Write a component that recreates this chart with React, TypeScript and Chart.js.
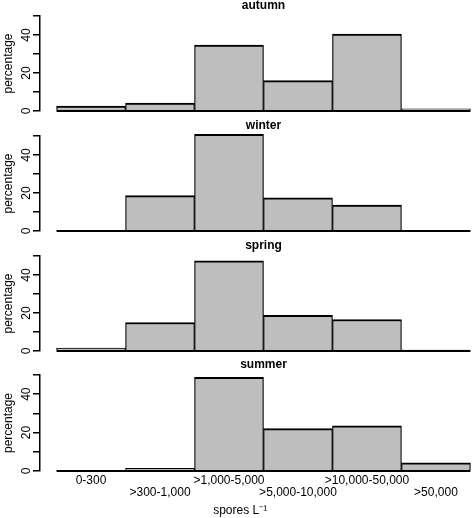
import React, { useEffect, useRef } from 'react';
import { Chart, registerables } from 'chart.js';

Chart.register(...registerables);

// ---- data ----
const categories = ['0-300', '>300-1,000', '>1,000-5,000', '>5,000-10,000', '>10,000-50,000', '>50,000'];
const seasons = ['autumn', 'winter', 'spring', 'summer'];
const autumn = [2.6, 4.2, 34.7, 16.0, 40.5, 1.2];
const winter = [0, 18.6, 50.9, 17.4, 13.7, 0];
const spring = [1.6, 15.0, 47.4, 18.8, 16.6, 0.5];
const summer = [0, 1.4, 48.8, 22.1, 23.5, 4.2];
const seasonValues = [autumn, winter, spring, summer];
const yTicks = [0, 10, 20, 30, 40, 50];
const yLabeledTicks = [0, 20, 40];
const yLabel = 'percentage';
const xLabel = 'spores L\u207B\u00B9';

const FONT = '"Liberation Sans", Arial, Helvetica, sans-serif';
const CANVAS_W = 487;
const PLOT_TOPS = [16, 136, 256, 375];

const baselinePlugin = {
  id: 'baseline',
  afterDatasetsDraw(chart: any) {
    const { ctx, scales } = chart;
    const x = scales.x;
    const y = scales.y;
    const y0 = y.getPixelForValue(0);
    ctx.save();
    ctx.strokeStyle = '#000';
    ctx.lineWidth = 1.8;
    ctx.beginPath();
    ctx.moveTo(x.getPixelForValue(0), y0);
    ctx.lineTo(x.getPixelForValue(categories.length), y0);
    ctx.stroke();
    ctx.restore();
  },
};

function Panel({ title, values, showX, top }: { title: string; values: number[]; showX: boolean; top: number }) {
  const ref = useRef<HTMLCanvasElement | null>(null);
  const height = showX ? 18 + 95 + 48 : 18 + 95 + 10;
  useEffect(() => {
    if (!ref.current) return;
    const chart = new Chart(ref.current, {
      type: 'bar',
      data: {
        datasets: [
          {
            data: values.map((v, i) => ({ x: i + 0.5, y: v })),
            backgroundColor: '#bebebe',
            borderColor: '#000',
            borderWidth: { top: 2, left: 1.2, right: 1.2, bottom: 0 },
            borderSkipped: false,
            barPercentage: 1,
            categoryPercentage: 1,
            clip: false,
          } as any,
        ],
      },
      options: {
        animation: false,
        responsive: false,
        devicePixelRatio: 1,
        events: [],
        layout: { padding: { left: 0, right: 0, top: 0, bottom: showX ? 0 : 10 } },
        plugins: {
          legend: { display: false },
          tooltip: { enabled: false },
          title: {
            display: true,
            text: title,
            fullSize: false,
            color: '#000',
            font: { family: FONT, size: 12, weight: 'bold', lineHeight: 1 },
            padding: { top: 2, bottom: 4 },
          },
        },
        scales: {
          x: {
            type: 'linear',
            min: -0.24,
            max: 6.24,
            bounds: 'data',
            offset: false,
            display: showX,
            afterBuildTicks: (s: any) => {
              s.ticks = categories.map((_, i) => ({ value: i + 0.5 }));
            },
            grid: { display: false, drawTicks: false, offset: false },
            border: { display: false },
            ticks: {
              autoSkip: false,
              maxRotation: 0,
              minRotation: 0,
              padding: 4,
              color: '#000',
              font: { family: FONT, size: 12, lineHeight: 1 },
              callback: (_v: any, i: number) => (i % 2 === 0 ? [categories[i]] : ['', categories[i]]),
            },
            title: {
              display: showX,
              text: xLabel + ' '.repeat(14),
              color: '#000',
              font: { family: FONT, size: 12, lineHeight: 1 },
              padding: { top: 2, bottom: 1 },
            },
          },
          y: {
            min: 0,
            max: 50,
            afterBuildTicks: (s: any) => {
              s.ticks = yTicks.map((v) => ({ value: v }));
            },
            afterFit: (s: any) => {
              s.width = 40;
            },
            grid: { drawOnChartArea: false, drawTicks: true, tickLength: 7, color: '#000', lineWidth: 1.5 },
            border: { display: true, color: '#000', width: 1.5 },
            ticks: {
              autoSkip: false,
              minRotation: 90,
              maxRotation: 90,
              crossAlign: 'center',
              padding: 0,
              color: '#000',
              font: { family: FONT, size: 12, lineHeight: 1 },
              callback: (v: any) => (yLabeledTicks.includes(Number(v)) ? String(v) : ''),
            },
            title: {
              display: true,
              text: yLabel,
              color: '#000',
              font: { family: FONT, size: 12, lineHeight: 1 },
              padding: { top: 3, bottom: 0 },
            },
          },
        },
      } as any,
      plugins: [baselinePlugin],
    });
    return () => chart.destroy();
  }, [title, values, showX]);
  return (
    <canvas
      ref={ref}
      width={CANVAS_W}
      height={height}
      style={{ position: 'absolute', left: 0, top: top - 18, width: CANVAS_W, height }}
    />
  );
}

export default function App() {
  return (
    <div
      style={{
        position: 'absolute',
        left: 0,
        top: 0,
        width: 472,
        height: 518,
        overflow: 'hidden',
        background: '#fff',
      }}
    >
      {seasons.map((s, k) => (
        <Panel key={s} title={s} values={seasonValues[k]} showX={k === seasons.length - 1} top={PLOT_TOPS[k]} />
      ))}
    </div>
  );
}
